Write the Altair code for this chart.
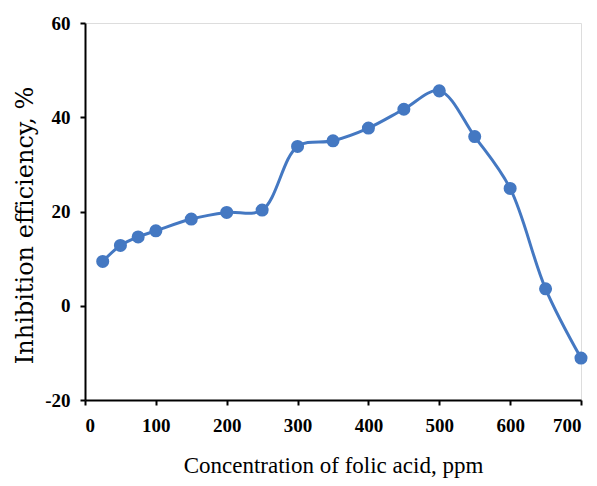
import altair as alt
import pandas as pd

conc = [25, 50, 75, 100, 150, 200, 250, 300, 350, 400, 450, 500, 550, 600, 650, 700]
ie = [9.4, 12.8, 14.6, 15.9, 18.4, 19.8, 20.3, 33.8, 35.0, 37.7, 41.7, 45.6, 35.9, 24.9, 3.6, -11.1]
x_ticks = [0, 100, 200, 300, 400, 500, 600, 700]
y_ticks = [-20, 0, 20, 40, 60]

df = pd.DataFrame({"c": conc, "ie": ie})
color = "#4478C2"
font = "Liberation Serif"

x = alt.X("c:Q", scale=alt.Scale(domain=[0, 700], nice=False),
          axis=alt.Axis(values=x_ticks, title="Concentration of folic acid, ppm",
                        grid=False, domainColor="black", domainWidth=2, tickColor="black",
                        tickWidth=2, tickSize=5, labelFont=font, labelFontSize=19,
                        labelFontWeight="bold", labelColor="black", labelPadding=11,
                        labelExpr="toString(datum.value)",
                        titleFont=font, titleFontSize=23, titleFontWeight="normal",
                        titleColor="black", titleBaseline="alphabetic", titleY=72))
y = alt.Y("ie:Q", scale=alt.Scale(domain=[-20, 60], nice=False),
          axis=alt.Axis(values=y_ticks, title="Inhibition efficiency, %",
                        grid=False, domainColor="black", domainWidth=2, tickColor="black",
                        tickWidth=2, tickSize=5, labelFont=font, labelFontSize=19,
                        labelFontWeight="bold", labelColor="black", labelPadding=10,
                        labelExpr="toString(datum.value)",
                        titleFont="DejaVu Serif", titleFontSize=24, titleFontWeight="normal",
                        titleColor="black", titleBaseline="alphabetic",
                        titleX=-53, titleY=202))

base = alt.Chart(df)
line = base.mark_line(color=color, strokeWidth=3, interpolate="catmull-rom").encode(x=x, y=y)
pts = base.mark_point(filled=True, color=color, size=170, opacity=1).encode(x=x, y=y)

chart = (line + pts).properties(
    width=496, height=377,
    autosize=alt.AutoSizeParams(type="none"),
    padding={"left": 77, "top": 15, "right": 8, "bottom": 78},
).configure_view(stroke=None).configure(background="white")

chart.save("out.html", embed_options={"renderer": "svg", "actions": False})
